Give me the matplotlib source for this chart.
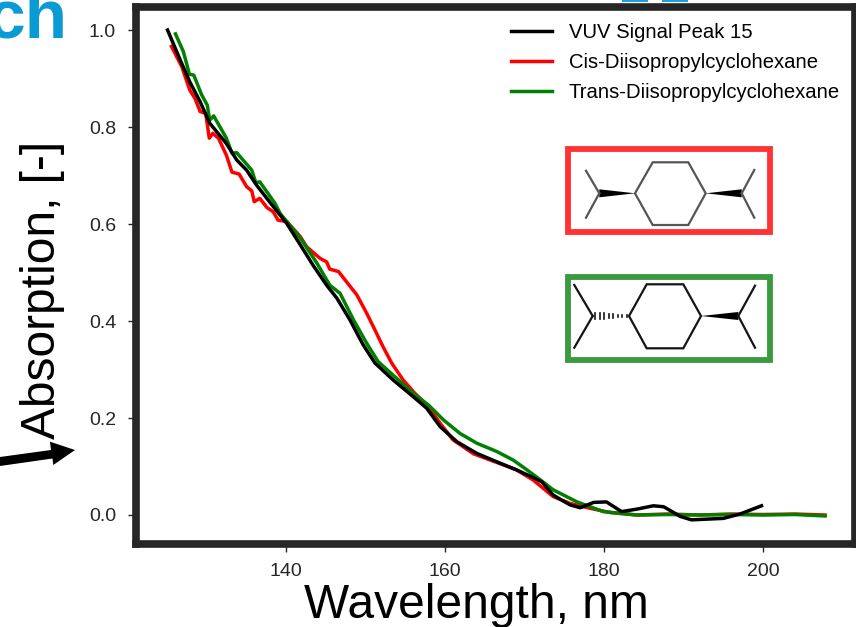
import matplotlib
matplotlib.use('Agg')
import matplotlib.pyplot as plt
from matplotlib.patches import Polygon, Rectangle

plt.rcParams['font.family'] = ['Liberation Sans', 'DejaVu Sans']

# spectra
vuv_x = [125.1, 126.7, 127.9, 129.2, 130.4, 132.5, 133.8, 135.05, 136.3, 138.4, 140.1, 141.8, 143.4, 145.1,
         146.4, 148.05, 149.7, 151.2, 153.5, 156.0, 157.7, 159.4, 161.5, 164.0, 166.9, 169.0, 171.5, 172.2,
         173.6, 175.7, 177.0, 178.7, 180.3, 182.2, 184.1, 186.2, 187.5, 189.6, 191.0, 195.0, 197.1, 199.8]
vuv_y = [1.0, 0.938, 0.893, 0.852, 0.808, 0.766, 0.732, 0.711, 0.680, 0.636, 0.601, 0.557, 0.515, 0.474,
         0.447, 0.402, 0.351, 0.313, 0.278, 0.244, 0.220, 0.182, 0.151, 0.127, 0.107, 0.093, 0.074, 0.068,
         0.041, 0.021, 0.015, 0.026, 0.027, 0.007, 0.012, 0.019, 0.017, -0.003, -0.010, -0.007, 0.002, 0.019]

cis_x = [125.6, 126.9, 127.9, 128.55, 129.2, 129.9, 130.35, 130.8, 131.5, 132.5, 133.2, 134.1, 135.05, 135.7,
         136.0, 136.7, 137.6, 138.4, 139.0, 140.1, 141.8, 142.6, 144.3, 145.1, 145.5, 146.6, 147.6, 148.9,
         150.15, 151.2, 152.2, 153.3, 154.75, 156.2, 157.7, 159.4, 161.0, 163.6, 166.9, 169.0, 171.1, 173.6,
         175.7, 178.2, 180.8, 184.1, 188.0, 192.0, 196.0, 200.0, 204.0, 207.8]
cis_y = [0.966, 0.924, 0.876, 0.859, 0.832, 0.828, 0.777, 0.787, 0.777, 0.742, 0.707, 0.703, 0.677, 0.668,
         0.646, 0.653, 0.634, 0.625, 0.608, 0.605, 0.574, 0.553, 0.529, 0.522, 0.507, 0.502, 0.481, 0.454,
         0.416, 0.381, 0.347, 0.313, 0.278, 0.251, 0.227, 0.189, 0.155, 0.126, 0.106, 0.093, 0.072, 0.038,
         0.024, 0.014, 0.005, 0.0, 0.002, 0.0, 0.002, 0.001, 0.002, 0.0]

trans_x = [126.1, 127.1, 127.85, 128.4, 129.4, 130.1, 130.4, 130.9, 132.5, 133.2, 133.8, 135.7, 136.2, 136.7,
           138.6, 139.25, 140.3, 141.8, 143.9, 145.5, 146.8, 148.5, 150.15, 151.6, 153.9, 156.0, 157.9, 159.8,
           161.9, 164.0, 166.5, 168.6, 170.3, 171.7, 173.6, 176.6, 179.9, 184.1, 188.0, 192.0, 196.0, 200.0,
           204.0, 207.8]
trans_y = [0.992, 0.955, 0.909, 0.907, 0.866, 0.845, 0.814, 0.823, 0.777, 0.746, 0.747, 0.711, 0.685, 0.687,
           0.643, 0.622, 0.601, 0.571, 0.519, 0.474, 0.457, 0.402, 0.354, 0.316, 0.282, 0.251, 0.227, 0.196,
           0.168, 0.148, 0.131, 0.113, 0.093, 0.076, 0.052, 0.027, 0.007, 0.0, 0.001, 0.0, 0.001, 0.0,
           0.001, -0.002]

x_ticks = [140, 160, 180, 200]
y_ticks = [0.0, 0.2, 0.4, 0.6, 0.8, 1.0]

W, H = 856, 627
fig = plt.figure(figsize=(W / 100, H / 100), dpi=100)
ax = fig.add_axes([135.5 / W, 1 - 544 / H, (854.5 - 135.5) / W, (544 - 6.5) / H])

ax.plot(vuv_x, vuv_y, color='black', linewidth=2.5, label='VUV Signal Peak 15', zorder=4)
ax.plot(cis_x, cis_y, color='red', linewidth=2.5, label='Cis-Diisopropylcyclohexane', zorder=2)
ax.plot(trans_x, trans_y, color='green', linewidth=2.5, label='Trans-Diisopropylcyclohexane', zorder=3)

ax.set_xlim(121.07, 211.5)
ax.set_ylim(-0.0598, 1.0485)
ax.set_xticks(x_ticks)
ax.set_yticks(y_ticks)
ax.tick_params(direction='out', length=6, width=1.0, color='#262626', labelcolor='#262626', labelsize=14, pad=8)
for spine in ax.spines.values():
    spine.set_linewidth(5.5)
    spine.set_color('#262626')

ax.legend(loc='upper right', frameon=False, fontsize=14.55, bbox_to_anchor=(0.9995, 0.996),
          handlelength=2.0, handletextpad=0.85, labelspacing=0.55, borderaxespad=0.3)

# overlay in pixel coordinates for the pasted structures and slide leftovers
ov = fig.add_axes([0, 0, 1, 1], facecolor='none')
ov.set_xlim(0, W)
ov.set_ylim(H, 0)
ov.axis('off')

ov.add_patch(Rectangle((568, 149), 202, 83, fill=False, ec='#FF3333', lw=4.2))
ov.add_patch(Rectangle((568, 277), 202, 83, fill=False, ec='#3A9A3F', lw=4.2))

# bits of the slide title above the frame
ov.add_patch(Rectangle((622.5, 0), 25.5, 2, color='#1AA0DC', lw=0))
ov.add_patch(Rectangle((662.5, 0), 25.5, 2, color='#1AA0DC', lw=0))


def molecule(hexagon, left_tip, right_tip, left_arms, right_arms, color, hashed=False):
    ov.add_patch(Polygon(hexagon, closed=True, fill=False, ec=color, lw=1.6))
    lx, ly = hexagon[0]
    rx, ry = hexagon[3]
    if hashed:
        n = 8
        for i in range(n):
            f = (i + 0.5) / n
            hx = lx + (left_tip[0] - lx) * f
            half = 0.4 + 3.2 * f
            ov.plot([hx, hx], [ly - half, ly + half], color=color, lw=1.2)
    else:
        ov.add_patch(Polygon([(lx, ly), (left_tip[0], ly - 4), (left_tip[0], ly + 4)], color='black', lw=0))
    ov.add_patch(Polygon([(rx, ry), (right_tip[0], ry - 4), (right_tip[0], ry + 4)], color='black', lw=0))
    for arm in left_arms:
        ov.plot([left_tip[0], arm[0]], [left_tip[1], arm[1]], color=color, lw=1.6)
    for arm in right_arms:
        ov.plot([right_tip[0], arm[0]], [right_tip[1], arm[1]], color=color, lw=1.6)


molecule([(635, 193.3), (652.7, 162.3), (688.3, 162.3), (705.7, 193.3), (688.3, 225), (652.7, 225)],
         (599.3, 193.3), (741.7, 193.3), [(586, 170.7), (586, 217.7)], [(754.3, 170), (754.3, 217.7)], '#555555')
molecule([(629, 316), (646.7, 284.3), (683.3, 284.3), (701, 316), (683.3, 348.3), (646.7, 348.3)],
         (592.7, 316), (738.3, 316), [(574.3, 285), (574.3, 347.7)], [(755, 285.7), (755, 347.7)], '#151515', hashed=True)

# arrow coming in from the slide
ov.add_patch(Polygon([(0, 457), (51, 450), (50, 441.7), (75, 450), (53.3, 465), (52.5, 458.5), (0, 466)],
                     color='black', lw=0))

fig.text(67 / W, 1 - 38 / H, 'ch', color='#0A9BD4', fontsize=50, fontweight='bold', ha='right', va='baseline')
fig.text(43 / W, 1 - 290 / H, 'Absorption, [-]', color='black', fontsize=34.5, rotation=90, ha='center', va='center')
fig.text(476 / W, 1 - 605 / H, 'Wavelength, nm', color='black', fontsize=34.5, ha='center', va='center')

fig.savefig('out.png', dpi=100)
